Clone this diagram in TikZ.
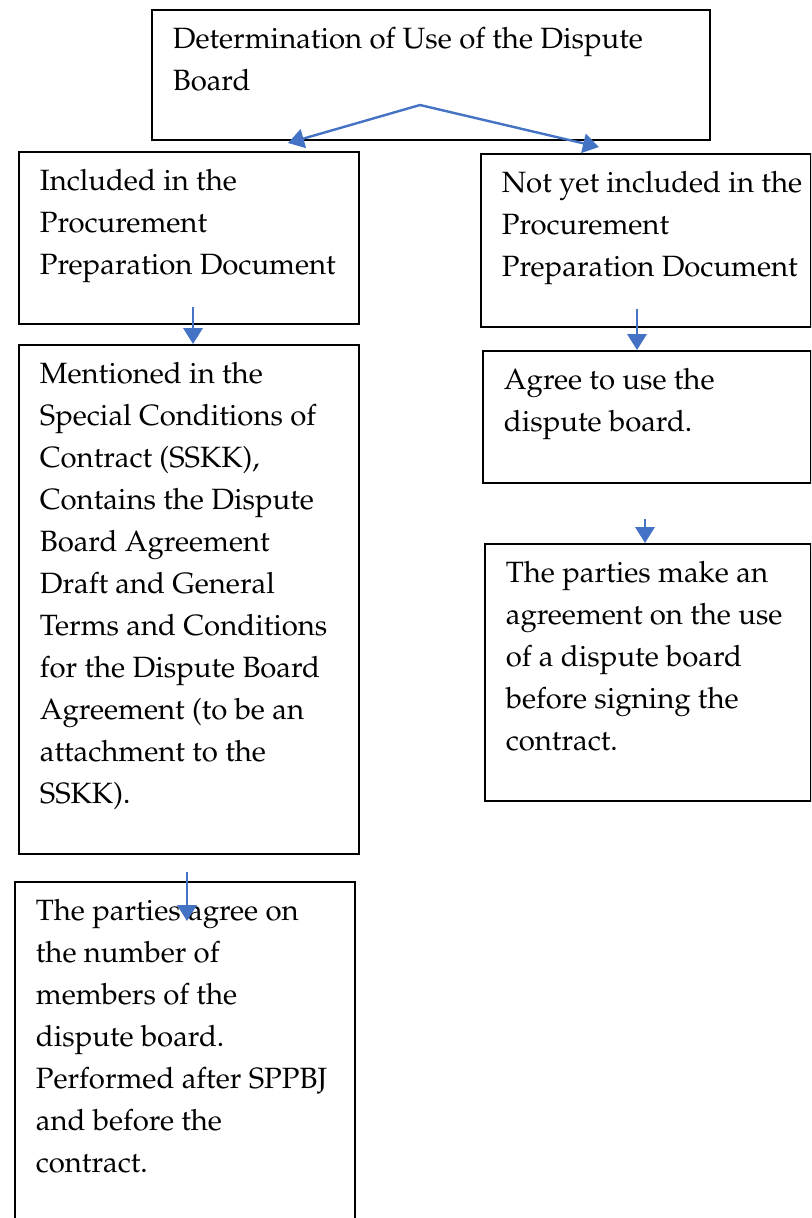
\documentclass[tikz,border=0pt]{standalone}
\usepackage[T1]{fontenc}
\usepackage{mathpazo}
\usepackage{xcolor}
\usepackage{tikz}
\usetikzlibrary{arrows.meta,calc}
\definecolor{cFlow}{RGB}{68,114,196}
% text box with the text kept at the top (width, height, lines)
\newcommand{\boxtxt}[3]{\parbox[t][#2][t]{#1}{\raggedright\leftskip=15.75pt
  \rule{0pt}{29.25pt}\ignorespaces#3}}
\tikzset{
  >={Triangle[length=12pt,width=14.5pt]},
  stage/.style={draw,line width=1.3pt,anchor=north west,inner sep=0pt,
                font=\fontsize{22}{31.5}\selectfont},
  flow/.style={->,cFlow,line width=1.8pt},
}
\begin{document}
\begin{tikzpicture}[x=0.75pt,y=-0.75pt]
  \useasboundingbox (0,0) rectangle (811,1218);
  \clip (0,0) rectangle (811,1218);
  % boxes
  \node[stage] (det)     at (151,9)   {\boxtxt{418.5pt}{97.5pt}{Determination of Use of the Dispute\\ Board}};
  \node[stage] (incl)    at (18,151)  {\boxtxt{255pt}{129pt}{Included in the\\ Procurement\\ Preparation Document}};
  \node[stage] (notincl) at (480,153) {\boxtxt{247.5pt}{129.75pt}{Not yet included in the\\ Procurement\\ Preparation Document}};
  \node[stage] (mention) at (18,344)  {\boxtxt{255pt}{381.75pt}{Mentioned in the\\ Special Conditions of\\
      Contract (SSKK),\\ Contains the Dispute\\ Board Agreement\\ Draft and General\\ Terms and Conditions\\
      for the Dispute Board\\ Agreement (to be an\\ attachment to the\\ SSKK).}};
  \node[stage] (agree)   at (482,350) {\boxtxt{246pt}{99pt}{Agree to use the\\ dispute board.}};
  \node[stage] (make)    at (484,543) {\boxtxt{244.5pt}{192.75pt}{The parties make an\\ agreement on the use\\
      of a dispute board\\ before signing the\\ contract.}};
  \node[stage] (members) at (14,881)  {\boxtxt{255pt}{262.5pt}{The parties agree on\\ the number of\\
      members of the\\ dispute board.\\ Performed after SPPBJ\\ and before the\\ contract.}};

  % arrows
  \coordinate (fork) at (420,105);
  \coordinate (tipL) at (288,143);
  \coordinate (tipR) at (599,147);
  \draw[flow] (fork) -- (tipL);
  \draw[flow] (fork) -- (tipR);
  \coordinate (s1) at (193,307);
  \draw[flow] (s1) -- (s1 |- mention.north);
  \coordinate (s2) at (637,309);
  \draw[flow] (s2) -- (s2 |- agree.north);
  \coordinate (s3) at (645,519);
  \draw[flow] (s3) -- (s3 |- make.north);
  \coordinate (s4) at (187,872);
  \draw[flow] (s4) -- ($(s4 |- members.north)+(0,40)$);
\end{tikzpicture}
\end{document}
